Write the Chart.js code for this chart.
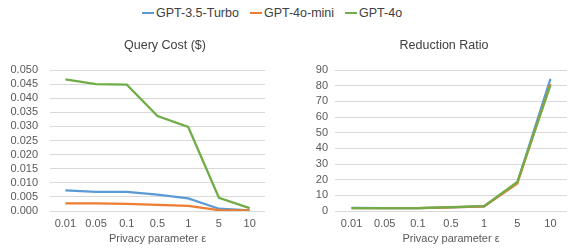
<!DOCTYPE html>
<html>
<head>
<meta charset="utf-8">
<script src="https://cdn.jsdelivr.net/npm/chart.js@4"></script>
<style>
  html, body { margin: 0; padding: 0; width: 570px; height: 249px; overflow: hidden; background: #fff; }
  body { position: relative; font-family: "Liberation Sans", Arial, sans-serif; }
  #legend { position: absolute; left: 142px; top: 6px; display: flex; align-items: center; font-size: 12.5px; color: #404040; }
  .item { display: flex; align-items: center; margin-right: 11px; }
  .swatch { width: 12px; height: 2px; margin-right: 2px; }
  .box { position: absolute; top: 36px; height: 213px; }
</style>
</head>
<body>
<div id="legend"></div>
<div class="box" style="left:0px;width:330px"><canvas id="costChart"></canvas></div>
<div class="box" style="left:300px;width:288px"><canvas id="ratioChart"></canvas></div>
<script>
  const epsilons = ['0.01', '0.05', '0.1', '0.5', '1', '5', '10'];
  const models = ['GPT-3.5-Turbo', 'GPT-4o-mini', 'GPT-4o'];
  const colors = ['#5B9BD5', '#ED7D31', '#70AD47'];

  // query cost in dollars
  const costGpt35 = [0.0073, 0.0068, 0.0068, 0.0058, 0.0045, 0.0008, 0.0002];
  const costMini = [0.0027, 0.0027, 0.0025, 0.0022, 0.0018, 0.0003, 0.0002];
  const costGpt4o = [0.0467, 0.0450, 0.0448, 0.0337, 0.0298, 0.0047, 0.0010];

  // reduction ratio
  const ratioGpt35 = [2.0, 1.8, 1.8, 2.3, 3.0, 18.0, 84.3];
  const ratioMini = [1.9, 1.9, 1.9, 2.3, 3.0, 17.6, 81.2];
  const ratioGpt4o = [1.9, 1.8, 1.8, 2.4, 3.1, 18.5, 80.3];

  const legend = document.getElementById('legend');
  models.forEach((name, i) => {
    const item = document.createElement('div');
    item.className = 'item';
    item.innerHTML = '<span class="swatch" style="background:' + colors[i] + '"></span>' + name;
    legend.appendChild(item);
  });

  const font = { family: '"Liberation Sans", Arial, sans-serif' };
  const textColor = '#595959';

  function makeChart(id, title, series, yOpts, leftW, rightW) {
    const ctx = document.getElementById(id);
    const data = {
      labels: epsilons,
      datasets: series.map((values, i) => ({
        label: models[i],
        data: values,
        borderColor: colors[i],
        backgroundColor: colors[i],
        borderWidth: 2.25,
        pointRadius: 0,
        tension: 0,
        order: 3 - i,
      }))
    };
    const config = {
      type: 'line',
      data: data,
      options: {
        responsive: true,
        maintainAspectRatio: false,
        animation: false,
        layout: { padding: 0 },
        scales: {
          x: {
            offset: true,
            grid: { display: false, drawTicks: false },
            border: { display: false },
            ticks: { color: textColor, font: { ...font, size: 11 }, padding: 6, maxRotation: 0, autoSkip: false },
            title: {
              display: true,
              text: 'Privacy parameter ε',
              color: textColor,
              font: { ...font, size: 11 },
              padding: { top: 2, bottom: 3 }
            },
            afterFit: (scale) => { scale.height = 38; }
          },
          y: {
            min: yOpts.min,
            max: yOpts.max,
            grid: { color: '#D9D9D9', drawTicks: false, lineWidth: 1 },
            border: { display: false },
            ticks: {
              stepSize: yOpts.step,
              autoSkip: false,
              color: textColor,
              font: { ...font, size: 11 },
              padding: yOpts.pad,
              callback: yOpts.fmt
            },
            afterFit: (scale) => { scale.width = leftW; }
          },
          y2: {
            position: 'right',
            min: 0,
            max: 1,
            grid: { display: false },
            border: { display: false },
            ticks: { display: false },
            afterFit: (scale) => { scale.width = rightW; }
          }
        },
        plugins: {
          legend: { display: false },
          tooltip: { enabled: false },
          title: {
            display: true,
            text: title,
            color: '#404040',
            font: { ...font, size: 12.5, weight: 'normal' },
            padding: { top: 2, bottom: 17 }
          }
        }
      }
    };
    return new Chart(ctx, config);
  }

  makeChart('costChart', 'Query Cost ($)', [costGpt35, costMini, costGpt4o],
    { min: 0, max: 0.05, step: 0.005, pad: 12, fmt: (v) => v.toFixed(3) }, 50, 65);
  makeChart('ratioChart', 'Reduction Ratio', [ratioGpt35, ratioMini, ratioGpt4o],
    { min: 0, max: 90, step: 10, pad: 7, fmt: (v) => v }, 35, 21);
</script>
</body>
</html>
